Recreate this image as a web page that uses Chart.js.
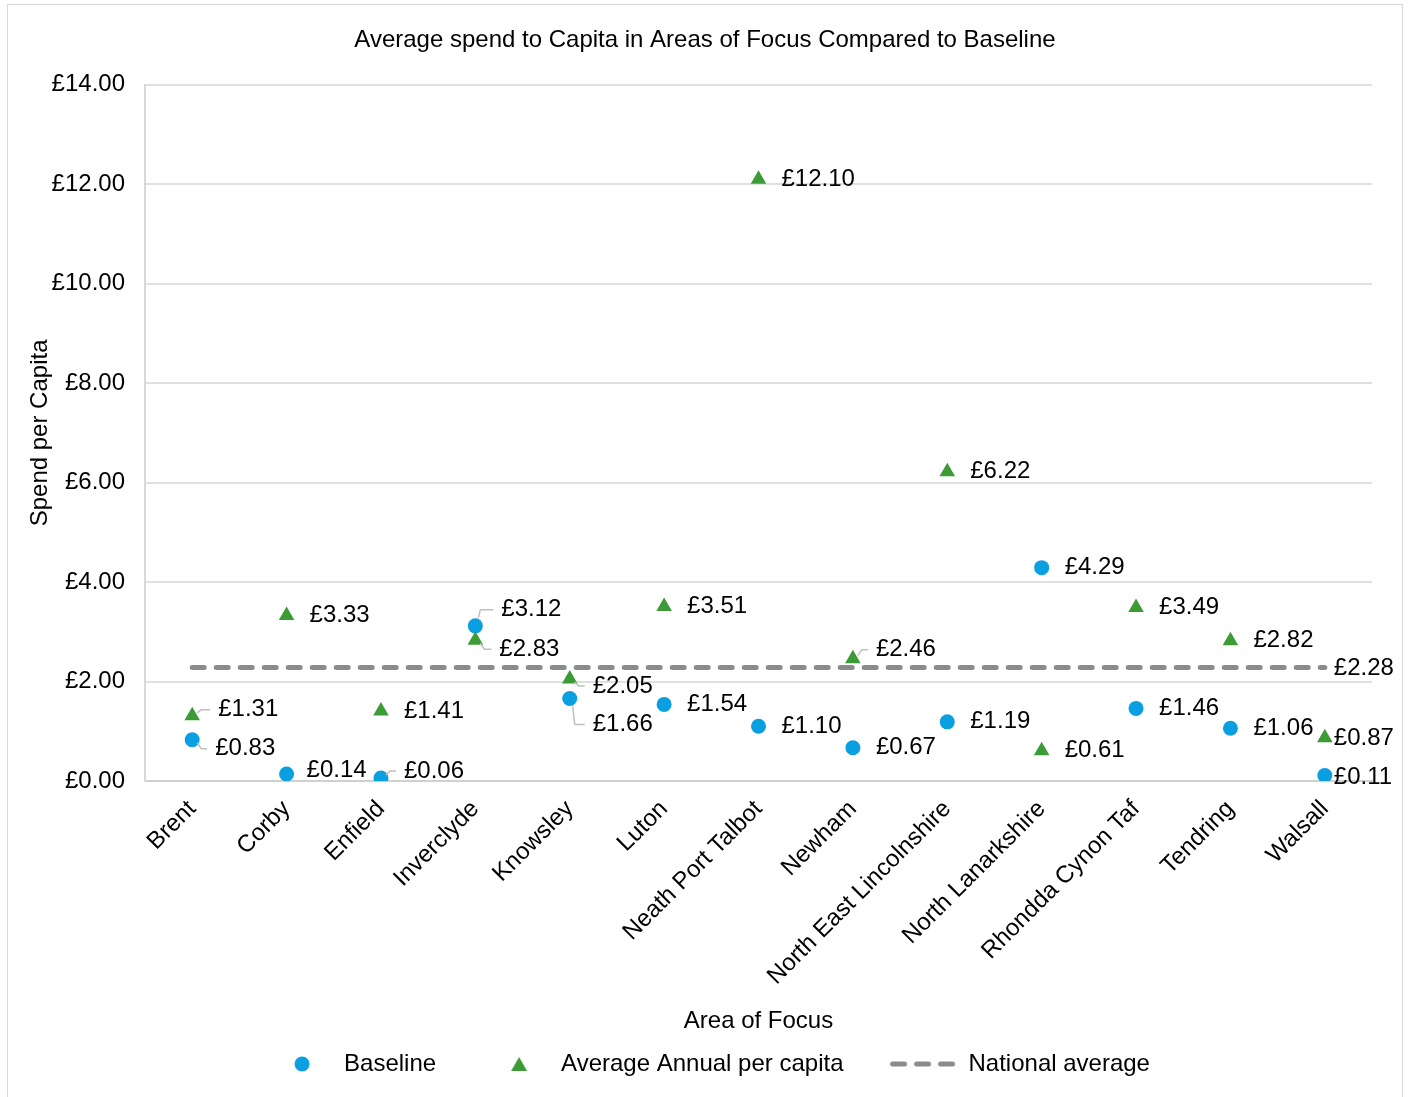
<!DOCTYPE html>
<html><head><meta charset="utf-8">
<script src="https://cdn.jsdelivr.net/npm/chart.js@4.4.1/dist/chart.umd.min.js"></script>
<style>
html,body{margin:0;padding:0;background:#fff;}
#wrap{position:relative;width:1410px;height:1097px;overflow:hidden;}
#frame{position:absolute;left:7px;top:4px;width:1394px;height:1100px;border:1px solid #d9d9d9;pointer-events:none;}
canvas{display:block;}
</style></head><body>
<div id="wrap"><canvas id="c" width="1410" height="1097"></canvas><div id="frame"></div></div>
<script>
// ---- DATA ----
const categories = ["Brent","Corby","Enfield","Inverclyde","Knowsley","Luton","Neath Port Talbot","Newham","North East Lincolnshire","North Lanarkshire","Rhondda Cynon Taf","Tendring","Walsall"];
const baseline = [0.83,0.14,0.06,3.12,1.66,1.54,1.10,0.67,1.19,4.29,1.46,1.06,0.11];
const averageAnnual = [1.31,3.33,1.41,2.83,2.05,3.51,12.10,2.46,6.22,0.61,3.49,2.82,0.87];
const nationalAverage = 2.28;
const seriesNames = ["Baseline","Average Annual per capita","National average"];
const chartTitle = "Average spend to Capita in Areas of Focus Compared to Baseline";
const yTitle = "Spend per Capita";
const xTitle = "Area of Focus";

// ---- STYLE ----
const BLUE = '#0a9fe0', GREEN = '#3d9b35', GREY = '#8a8b8d';
const FONT = "'Liberation Sans', Arial, sans-serif";
const FS = 24;
// label placement tweaks: index -> [dx, dy, leader]
const baselineLabelPos = {0:[23,9,true],1:[20,-4,false],2:[23,-7,true],3:[26,-16,true],4:[23,26,true],12:[9,2,false]};
const averageLabelPos = {0:[26,-6,true],3:[24,9,true],4:[23,7,true],7:[23,-9,true],12:[9,1,false]};

function money(v){ return '£' + v.toFixed(2); }

function legendImg(kind){
  const c = document.createElement('canvas'); c.width = 100; c.height = 24;
  const g = c.getContext('2d');
  if (kind === 'circle'){ g.fillStyle = BLUE; g.beginPath(); g.arc(70,12,7.5,0,Math.PI*2); g.fill(); }
  else if (kind === 'tri'){ g.fillStyle = GREEN; g.beginPath(); g.moveTo(70,5); g.lineTo(78,19); g.lineTo(62,19); g.closePath(); g.fill(); }
  else { g.strokeStyle = GREY; g.lineWidth = 5; g.lineCap = 'round'; g.setLineDash([12,12]); g.beginPath(); g.moveTo(36,12); g.lineTo(98,12); g.stroke(); }
  return c;
}
const legendImgs = [legendImg('circle'), legendImg('tri'), legendImg('dash')];

const boxShiftPlugin = {
  id: 'boxShift',
  afterLayout(chart){
    const t = chart.titleBlock;
    if (t){ t.left = 0; t.right = chart.width; t.width = chart.width; }
    const l = chart.legend;
    if (l){ l.left += 5; l.right += 5; }
  }
};

const labelPlugin = {
  id: 'pointLabels',
  afterDatasetsDraw(chart){
    const ctx = chart.ctx;
    ctx.save();
    ctx.font = FS + "px " + FONT;
    ctx.fillStyle = '#000';
    ctx.textBaseline = 'middle';
    ctx.textAlign = 'left';
    const draw = (dsIndex, values, posMap) => {
      const meta = chart.getDatasetMeta(dsIndex);
      values.forEach((v, i) => {
        const p = meta.data[i];
        const [dx, dy, leader] = posMap[i] || [23, 0, false];
        const tx = p.x + dx, ty = p.y + dy;
        if (leader){
          ctx.strokeStyle = '#c0c0c0'; ctx.lineWidth = 1.5;
          ctx.beginPath();
          const s = Math.sign(dy);
          if (Math.abs(dy) > 10){
            ctx.moveTo(p.x + 3, p.y + s*8);
            ctx.lineTo(p.x + 5, ty);
          } else {
            ctx.moveTo(p.x + 5, p.y + s*3);
            ctx.lineTo(p.x + 9, ty);
          }
          ctx.lineTo(tx - 8, ty);
          ctx.stroke();
        }
        ctx.fillText(money(v), tx, ty);
      });
    };
    draw(0, baseline, baselineLabelPos);
    draw(1, averageAnnual, averageLabelPos);
    const m2 = chart.getDatasetMeta(2);
    const last = m2.data[m2.data.length - 1];
    ctx.fillText(money(nationalAverage), last.x + 9, last.y + 1);
    ctx.restore();
  }
};

Chart.defaults.font.family = FONT;
Chart.defaults.font.size = FS;
Chart.defaults.color = '#000';

new Chart(document.getElementById('c'), {
  type: 'line',
  data: {
    labels: categories,
    datasets: [
      { label: seriesNames[0], data: baseline, showLine: false, pointStyle: 'circle', pointRadius: 7.5, pointBackgroundColor: BLUE, pointBorderWidth: 0, borderColor: BLUE, backgroundColor: BLUE, order: 1 },
      { label: seriesNames[1], data: averageAnnual, showLine: false, pointStyle: 'triangle', pointRadius: 9, pointBackgroundColor: GREEN, pointBorderWidth: 0, borderColor: GREEN, backgroundColor: GREEN, order: 0 },
      { label: seriesNames[2], data: categories.map(() => nationalAverage), borderColor: GREY, borderWidth: 5, borderDash: [12,12], borderCapStyle: 'round', pointRadius: 0, fill: false, order: 2 }
    ]
  },
  options: {
    responsive: false,
    animation: false,
    devicePixelRatio: 1,
    layout: { padding: { top: 13, right: 38, bottom: 11, left: 0 } },
    plugins: {
      tooltip: { enabled: false },
      title: { display: true, text: chartTitle, font: { size: FS, weight: 'normal' }, color: '#000', padding: { top: 13, bottom: 30 } },
      legend: {
        position: 'bottom',
        labels: {
          usePointStyle: true,
          pointStyleWidth: 100,
          padding: 13,
          font: { size: FS },
          color: '#000',
          generateLabels: () => seriesNames.map((t, i) => ({ text: t, pointStyle: legendImgs[i], fillStyle: 'transparent', strokeStyle: 'transparent', lineWidth: 0, datasetIndex: i, hidden: false }))
        }
      }
    },
    scales: {
      x: {
        type: 'category',
        offset: true,
        grid: { display: false, drawTicks: false },
        border: { display: true, color: '#d0d0d0', width: 2 },
        ticks: { autoSkip: false, minRotation: 45, maxRotation: 45, padding: 14, font: { size: FS }, color: '#000' },
        title: { display: true, text: xTitle, font: { size: FS }, color: '#000', padding: { top: 0, bottom: 3 } },
        afterFit(s){ s.height = 258; }
      },
      y: {
        min: 0, max: 14,
        grid: { color: '#e0e0e0', lineWidth: 2, drawTicks: false },
        border: { display: true, color: '#d9d9d9', width: 2 },
        ticks: { stepSize: 2, padding: 20, callback: v => money(v), font: { size: FS }, color: '#000' },
        title: { display: true, text: yTitle, font: { size: FS }, color: '#000', padding: { top: 26, bottom: 0 } },
        afterFit(s){ s.width = 145; }
      }
    }
  },
  plugins: [boxShiftPlugin, labelPlugin]
});
</script>
</body></html>
